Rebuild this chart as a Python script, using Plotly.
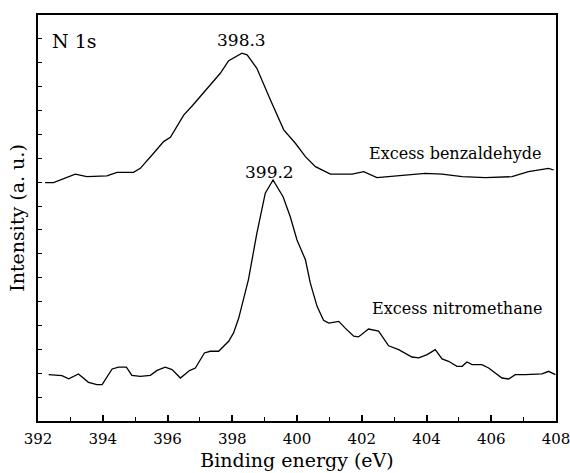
import plotly.graph_objects as go

# Binding energy (eV) and intensity (a.u., offset stacked)
benz_x = [392.22, 392.48, 393.15, 393.51, 394.13, 394.44, 394.95, 395.16, 395.57, 395.88,
          396.09, 396.50, 396.76, 397.27, 397.63, 397.89, 398.30, 398.46, 398.76, 399.18,
          399.59, 399.95, 400.26, 400.57, 401.03, 401.70, 402.06, 402.47, 403.14, 403.96,
          404.48, 405.10, 405.82, 406.64, 407.15, 407.46, 407.77, 407.93]
benz_y = [9.98, 9.98, 10.34, 10.23, 10.26, 10.41, 10.41, 10.58, 11.21, 11.70,
          11.88, 12.81, 13.19, 14.00, 14.56, 15.09, 15.40, 15.33, 14.77, 13.44,
          12.19, 11.63, 11.07, 10.65, 10.34, 10.34, 10.44, 10.19, 10.27, 10.37,
          10.34, 10.23, 10.19, 10.23, 10.44, 10.51, 10.58, 10.51]

nitro_x = [392.33, 392.74, 392.95, 393.25, 393.56, 393.82, 393.98, 394.29, 394.49, 394.73,
           394.90, 395.16, 395.47, 395.68, 395.93, 396.14, 396.40, 396.68, 396.86, 397.14,
           397.32, 397.58, 397.89, 398.04, 398.20, 398.50, 398.76, 399.02, 399.26, 399.57,
           399.79, 400.00, 400.26, 400.41, 400.62, 400.82, 400.98, 401.29, 401.49, 401.75,
           401.90, 402.21, 402.52, 402.83, 403.14, 403.55, 403.76, 404.02, 404.27, 404.48,
           404.68, 404.94, 405.10, 405.25, 405.41, 405.71, 405.92, 406.33, 406.54, 406.74,
           407.05, 407.57, 407.77, 407.98]
nitro_y = [1.94, 1.90, 1.77, 1.97, 1.62, 1.52, 1.52, 2.18, 2.26, 2.26,
           1.91, 1.87, 1.91, 2.12, 2.25, 2.15, 1.80, 2.11, 2.22, 2.85,
           2.92, 2.92, 3.34, 3.69, 4.31, 5.92, 7.86, 9.54, 10.09, 9.39,
           8.56, 7.58, 6.75, 5.78, 4.80, 4.22, 4.10, 4.17, 3.89, 3.55,
           3.52, 3.85, 3.76, 3.15, 2.99, 2.68, 2.64, 2.78, 2.99, 2.60,
           2.50, 2.29, 2.29, 2.47, 2.36, 2.36, 2.22, 1.80, 1.76, 1.94,
           1.94, 1.97, 2.08, 1.94]

x_tick_vals = [392, 394, 396, 398, 400, 402, 404, 406, 408]
x_tick_text = ["392", "394", "396", "398", "400", "402", "404", "406", "408"]

peak_labels = ["398.3", "399.2"]
peak_label_x = [398.3, 399.15]
peak_label_y = [15.95, 10.43]

FONT = "DejaVu Serif"

fig = go.Figure()
fig.add_trace(go.Scatter(x=benz_x, y=benz_y, mode="lines",
                         line=dict(color="black", width=1.3), name="Excess benzaldehyde"))
fig.add_trace(go.Scatter(x=nitro_x, y=nitro_y, mode="lines",
                         line=dict(color="black", width=1.3), name="Excess nitromethane"))

for t, xx, yy in zip(peak_labels, peak_label_x, peak_label_y):
    fig.add_annotation(x=xx, y=yy, text=t, showarrow=False, xanchor="center", yanchor="middle",
                       font=dict(family=FONT, size=17, color="black"))

fig.add_annotation(x=392.38, y=15.9, text="N 1s", showarrow=False, xanchor="left",
                   yanchor="middle", font=dict(family=FONT, size=19, color="black"))
fig.add_annotation(x=407.62, y=11.2, text="Excess benzaldehyde", showarrow=False,
                   xanchor="right", yanchor="middle",
                   font=dict(family=FONT, size=16, color="black"))
fig.add_annotation(x=407.62, y=4.73, text="Excess nitromethane", showarrow=False,
                   xanchor="right", yanchor="middle",
                   font=dict(family=FONT, size=16, color="black"))

fig.update_layout(
    width=570, height=473,
    margin=dict(l=38, r=14, t=15, b=52),
    paper_bgcolor="white", plot_bgcolor="white",
    showlegend=False,
    font=dict(family=FONT, color="black"),
)
fig.update_xaxes(
    range=[392, 408], tickmode="array", tickvals=x_tick_vals, ticktext=x_tick_text,
    ticks="inside", ticklen=6, tickwidth=1.5, tickcolor="black",
    minor=dict(dtick=1, ticks="inside", ticklen=4, tickwidth=1.2, tickcolor="black"),
    showline=True, linewidth=2, linecolor="black", mirror=True,
    showgrid=False, zeroline=False, automargin=False,
    ticklabeloverflow="allow", ticklabelstandoff=3,
    tickfont=dict(family=FONT, size=15, color="black"),
    title=dict(text="Binding energy (eV)", font=dict(family=FONT, size=19, color="black"),
               standoff=7),
)
fig.update_yaxes(
    range=[0, 17], dtick=1, tick0=0, showticklabels=False,
    ticks="inside", ticklen=4, tickwidth=1, tickcolor="black",
    showline=True, linewidth=2, linecolor="black", mirror=True,
    showgrid=False, zeroline=False, automargin=False,
    title=dict(text="Intensity (a. u.)", font=dict(family=FONT, size=19, color="black"),
               standoff=6),
)

fig.write_html("out.html")
